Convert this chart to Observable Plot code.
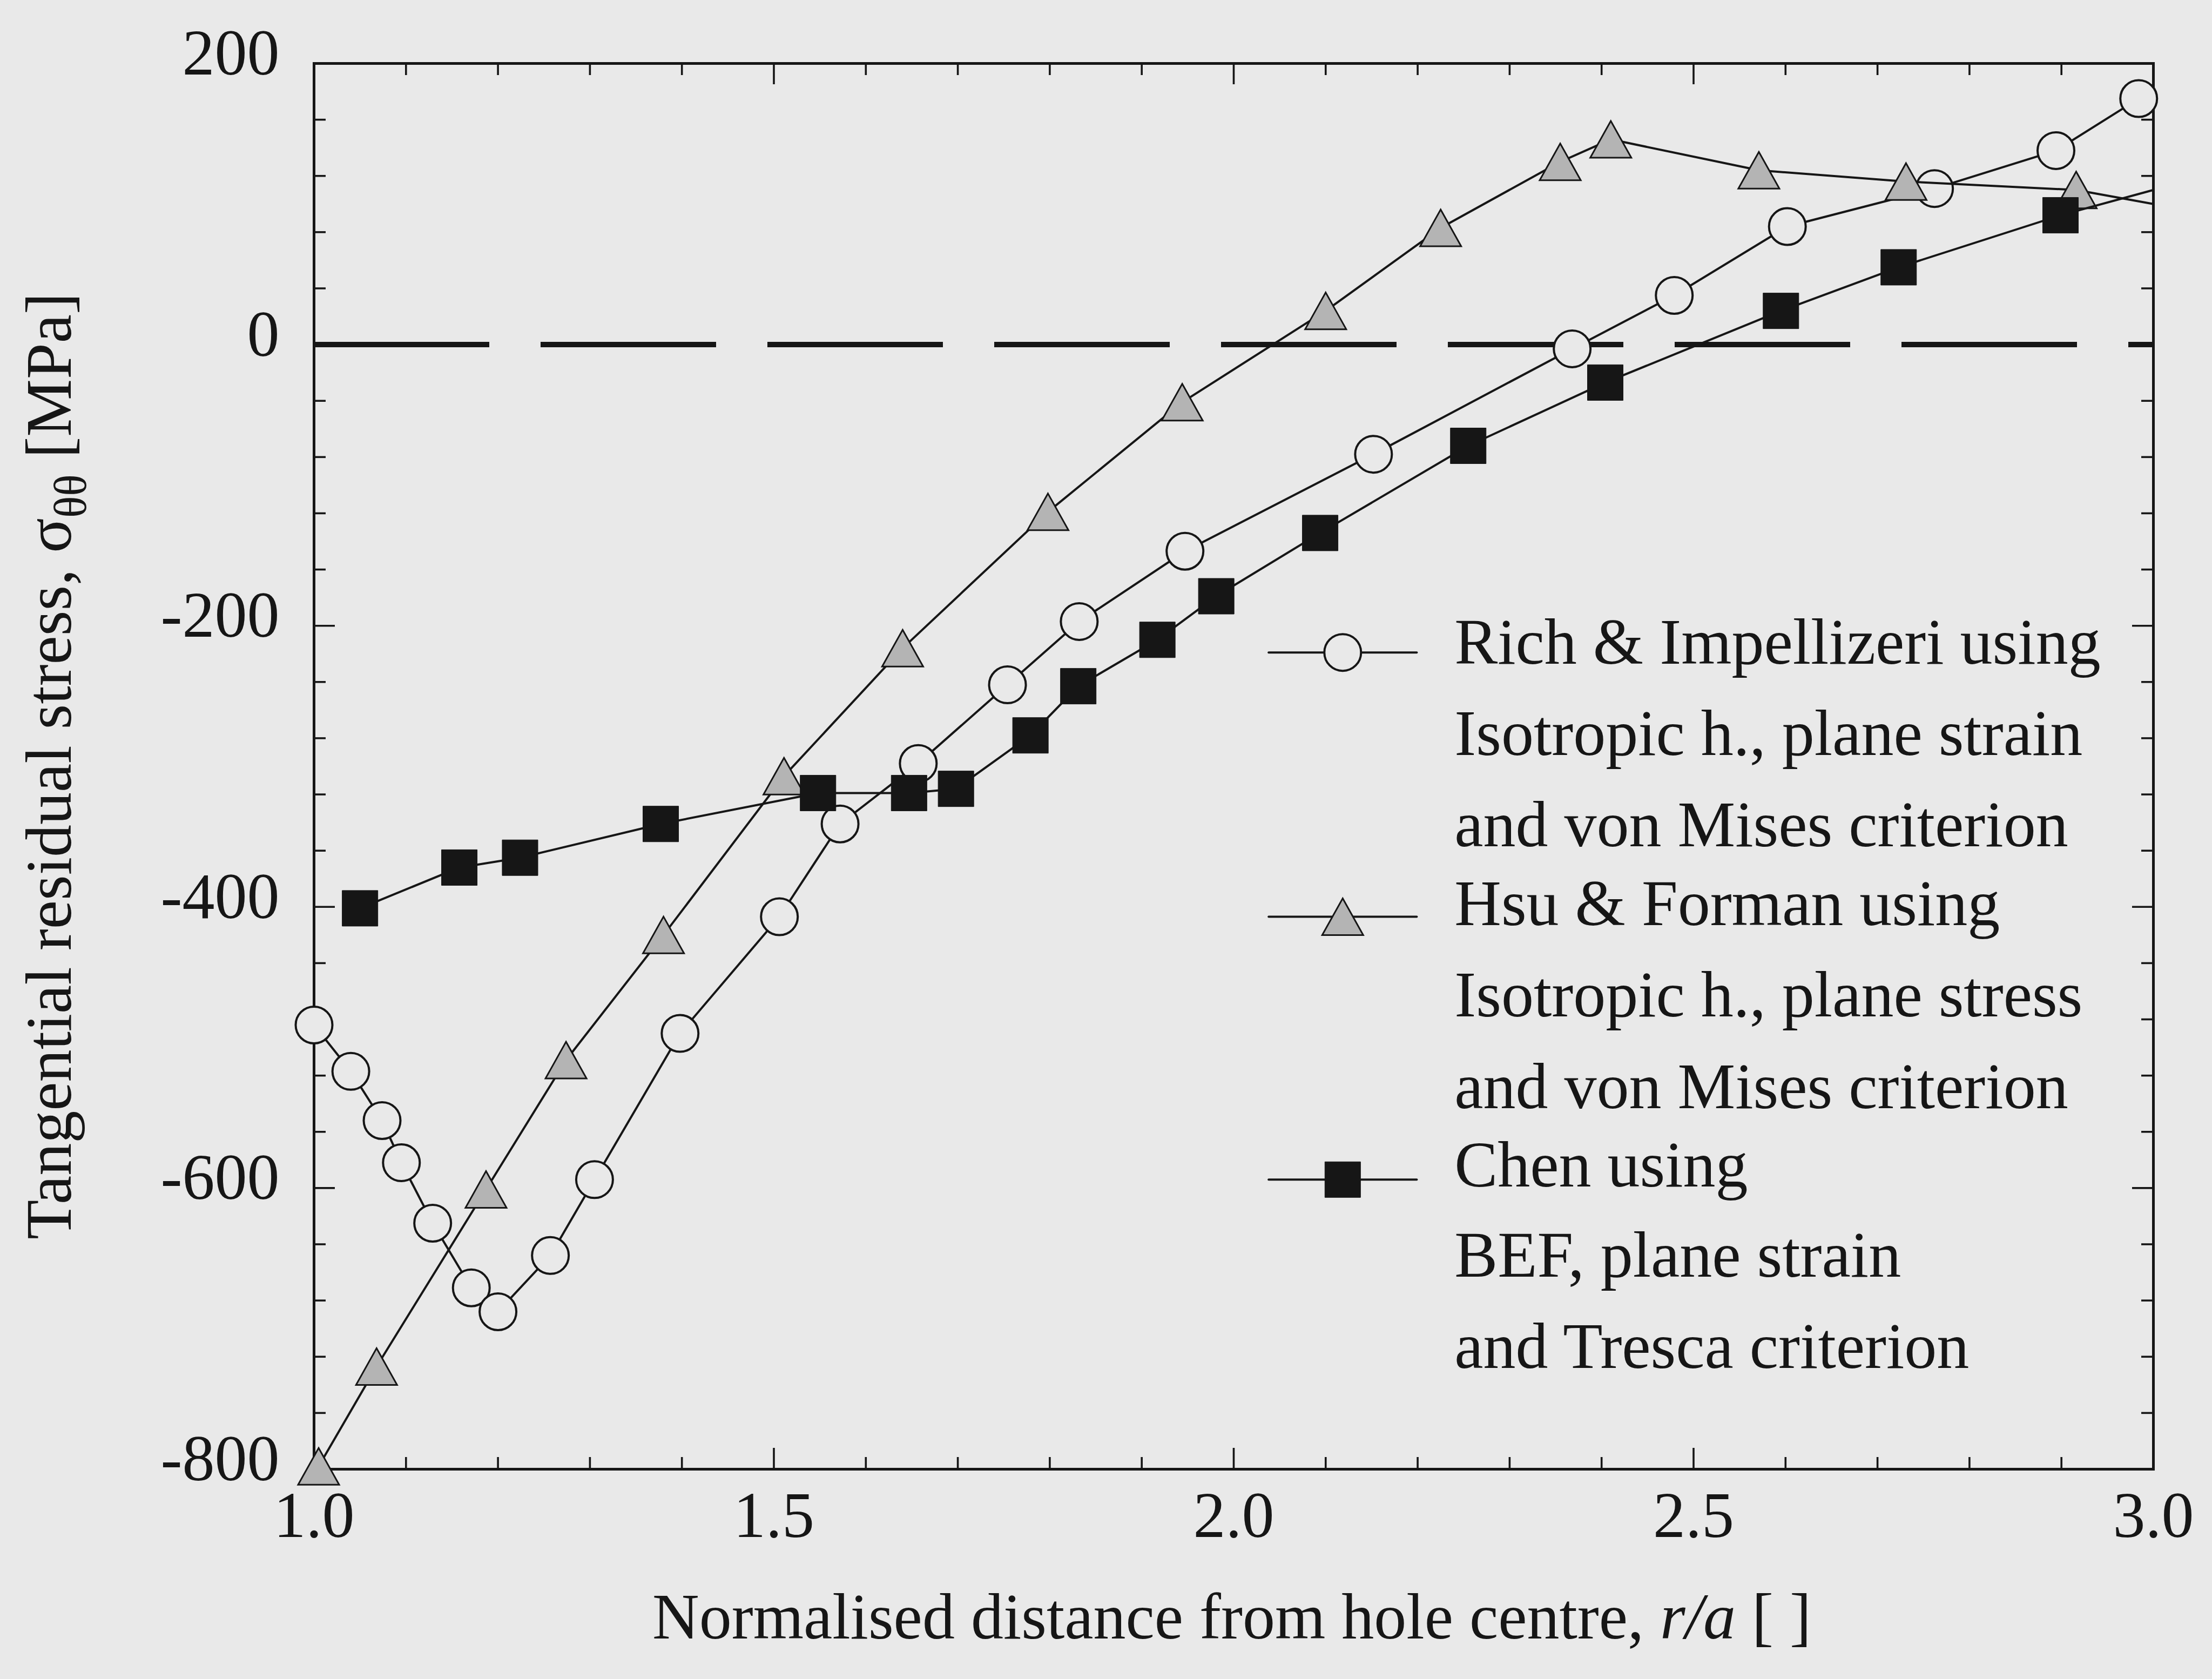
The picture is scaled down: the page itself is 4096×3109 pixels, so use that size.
<!DOCTYPE html>
<html>
<head>
<meta charset="utf-8">
<script src="https://cdn.jsdelivr.net/npm/d3@7"></script>
<script src="https://cdn.jsdelivr.net/npm/@observablehq/plot@0.6"></script>
<style>
  html, body { margin: 0; padding: 0; background: #e9e9e9; }
  #chart svg { display: block; }
</style>
</head>
<body>
<div id="chart"></div>
<script>
// ---------- data ----------
const richX = [1.000, 1.040, 1.074, 1.095, 1.129, 1.171, 1.200, 1.257, 1.305, 1.398, 1.506, 1.572, 1.657, 1.754, 1.832, 1.947, 2.152, 2.368, 2.479, 2.602, 2.762, 2.894, 2.984];
const richY = [-484, -517, -552, -582, -625, -671, -688, -648, -594, -490, -407, -341, -298, -242, -197, -147, -78, -3, 35, 84, 111, 138, 175];

const hsuX = [1.005, 1.068, 1.187, 1.274, 1.380, 1.511, 1.640, 1.798, 1.944, 2.100, 2.225, 2.355, 2.410, 2.571, 2.731, 2.916, 3.000];
const hsuY = [-798, -727, -601, -509, -420, -307, -216, -119, -41, 24, 83, 130, 146, 124, 116, 110, 100];

const chenX = [1.050, 1.158, 1.224, 1.377, 1.548, 1.647, 1.698, 1.779, 1.831, 1.917, 1.981, 2.094, 2.255, 2.404, 2.595, 2.723, 2.899, 3.000];
const chenY = [-401, -372, -365, -341, -319, -319, -316, -278, -243, -210, -179, -134, -72, -27, 24, 55, 92, 110];

// axis ticks
const xMajor = [1.0, 1.5, 2.0, 2.5, 3.0];
const xMinor = [1.1, 1.2, 1.3, 1.4, 1.6, 1.7, 1.8, 1.9, 2.1, 2.2, 2.3, 2.4, 2.6, 2.7, 2.8, 2.9];
const yMajor = [200, 0, -200, -400, -600, -800];
const yMinor = [160, 120, 80, 40, -40, -80, -120, -160, -240, -280, -320, -360, -440, -480, -520, -560, -640, -680, -720, -760];
const xInnerMajor = [1.5, 2.0, 2.5];
const yInnerMajor = [0, -200, -400, -600];

// legend
const legendNames = ["Rich", "Hsu", "Chen"];
const legendLineY = [-219, -407, -594];
const legendLineX = [2.038, 2.199];
const legendTextX = 2.240;
const legendText = [
  "Rich & Impellizeri using",
  "Isotropic h., plane strain",
  "and von Mises criterion",
  "Hsu & Forman using",
  "Isotropic h., plane stress",
  "and von Mises criterion",
  "Chen using",
  "BEF, plane strain",
  "and Tresca criterion"
];
const legendTextY = [-227, -292, -357, -413, -478, -543, -599, -663, -728];

// ---------- layout / style ----------
const W = 4096, H = 3109;
const mL = 581, mR = 109, mT = 117, mB = 389;
const plotW = W - mL - mR, plotH = H - mT - mB;
const ink = "#161616", bg = "#e9e9e9";
const font = "'Liberation Serif', 'Times New Roman', serif";
const fs = 120;
const majorLen = 39, minorLen = 22;

const toRows = (xs, ys) => xs.map((x, i) => ({x, y: ys[i]}));
const rich = toRows(richX, richY);
const hsu = toRows(hsuX, hsuY);
const chen = toRows(chenX, chenY);

const triangleSymbol = {
  draw(ctx) { const w = 76, h = 68; ctx.moveTo(0, -h / 2); ctx.lineTo(w / 2, h / 2); ctx.lineTo(-w / 2, h / 2); ctx.closePath(); }
};
const squareSymbol = { draw(ctx) { ctx.rect(-33, -33, 66, 66); } };

const circleStyle = {symbol: "circle", r: 34, fill: bg, stroke: ink, strokeWidth: 4};
const triStyle = {symbol: triangleSymbol, fill: "#b4b4b4", stroke: ink, strokeWidth: 3};
const sqStyle = {symbol: squareSymbol, fill: ink, stroke: ink, strokeWidth: 1};
const lineStyle = {stroke: ink, strokeWidth: 4};

const onPlot = d => d.x < 3;

function ticksX(values, len) {
  return [
    Plot.ruleX(values, {x: d => d, insetTop: plotH - len, stroke: ink, strokeWidth: 3.6}),
    Plot.ruleX(values, {x: d => d, insetBottom: plotH - len, stroke: ink, strokeWidth: 3.6})
  ];
}
function ticksY(values, len) {
  return [
    Plot.ruleY(values, {y: d => d, insetRight: plotW - len, stroke: ink, strokeWidth: 3.6}),
    Plot.ruleY(values, {y: d => d, insetLeft: plotW - len, stroke: ink, strokeWidth: 3.6})
  ];
}

const legendRows = legendNames.map((n, i) => ({name: n, y: legendLineY[i]}));
const legendSegs = legendRows.flatMap(r => legendLineX.map(x => ({name: r.name, x, y: r.y})));
const legendMid = (legendLineX[0] + legendLineX[1]) / 2;
const legendDots = legendRows.map(r => ({name: r.name, x: legendMid, y: r.y}));
const legendTextRows = legendText.map((t, i) => ({text: t, x: legendTextX, y: legendTextY[i]}));

const chart = Plot.plot({
  width: W, height: H,
  marginLeft: mL, marginRight: mR, marginTop: mT, marginBottom: mB,
  x: {domain: [1, 3]},
  y: {domain: [-800, 200]},
  style: {background: bg, fontFamily: font, fontSize: fs + "px", color: ink},
  marks: [
    // zero reference line
    Plot.ruleY([0], {stroke: ink, strokeWidth: 10, strokeDasharray: "325 95"}),
    // ticks (inward, all four sides)
    ...ticksX(xMinor, minorLen),
    ...ticksX(xInnerMajor, majorLen),
    ...ticksY(yMinor, minorLen),
    ...ticksY(yInnerMajor, majorLen),
    // tick labels
    Plot.axisX({anchor: "bottom", ticks: xMajor, tickSize: 0, tickPadding: 40,
      tickFormat: d => d.toFixed(1), fontSize: fs, fontFamily: font, fill: ink, label: null}),
    Plot.axisY({anchor: "left", ticks: yMajor, tickSize: 0, tickPadding: 64, dy: -18,
      tickFormat: d => String(d), fontSize: fs, fontFamily: font, fill: ink, label: null}),
    Plot.frame({stroke: ink, strokeWidth: 5}),
    // Rich & Impellizeri
    Plot.line(rich, {x: "x", y: "y", ...lineStyle}),
    Plot.dot(rich, {x: "x", y: "y", filter: onPlot, ...circleStyle}),
    // Hsu & Forman
    Plot.line(hsu, {x: "x", y: "y", ...lineStyle}),
    Plot.dot(hsu, {x: "x", y: "y", filter: onPlot, ...triStyle}),
    // Chen
    Plot.line(chen, {x: "x", y: "y", ...lineStyle}),
    Plot.dot(chen, {x: "x", y: "y", filter: onPlot, ...sqStyle}),
    // legend
    Plot.line(legendSegs, {x: "x", y: "y", z: "name", ...lineStyle}),
    Plot.dot(legendDots.filter(d => d.name === "Rich"), {x: "x", y: "y", ...circleStyle}),
    Plot.dot(legendDots.filter(d => d.name === "Hsu"), {x: "x", y: "y", ...triStyle}),
    Plot.dot(legendDots.filter(d => d.name === "Chen"), {x: "x", y: "y", ...sqStyle}),
    Plot.text(legendTextRows, {x: "x", y: "y", text: "text", textAnchor: "start", lineAnchor: "bottom",
      fontSize: fs, fontFamily: font, fill: ink})
  ]
});

document.getElementById("chart").appendChild(chart);

// ---------- axis titles (real text with italic / subscript) ----------
const svg = d3.select(chart);
const xt = svg.append("text")
  .attr("x", mL + plotW / 2 - 3)
  .attr("y", 3034)
  .attr("text-anchor", "middle")
  .attr("font-family", font)
  .attr("font-size", fs)
  .attr("fill", ink);
xt.append("tspan").text("Normalised distance from hole centre, ");
xt.append("tspan").attr("font-style", "italic").text("r/a");
xt.append("tspan").text(" [ ]");

const yt = svg.append("text")
  .attr("transform", `translate(131, ${mT + plotH / 2}) rotate(-90)`)
  .attr("text-anchor", "middle")
  .attr("font-family", font)
  .attr("font-size", fs)
  .attr("fill", ink);
yt.append("tspan").text("Tangential residual stress, σ");
yt.append("tspan").attr("font-size", 84).attr("dy", 28).text("θθ");
yt.append("tspan").attr("dy", -28).text(" [MPa]");
</script>
</body>
</html>
